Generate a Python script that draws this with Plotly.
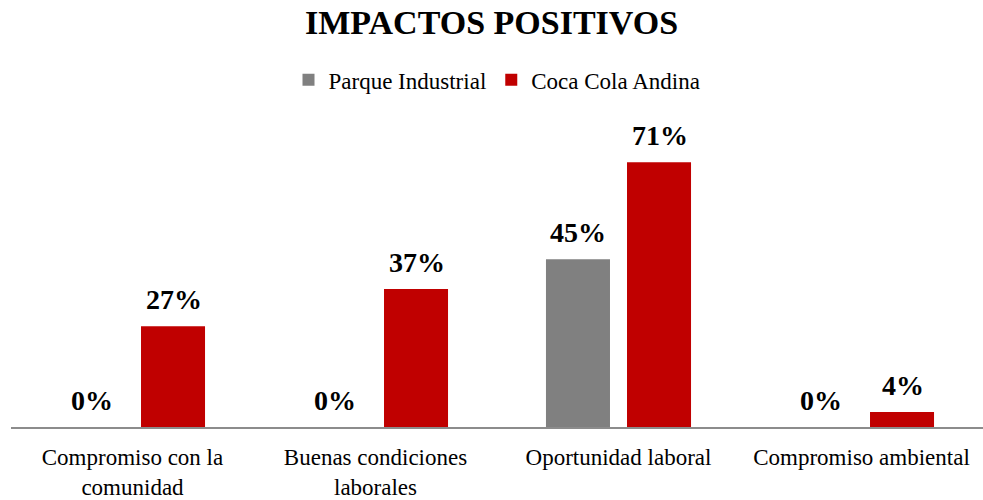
import plotly.graph_objects as go

categories = ["Compromiso con la<br>comunidad", "Buenas condiciones<br>laborales",
              "Oportunidad laboral", "Compromiso ambiental"]
parque_industrial = [0, 0, 45, 0]
coca_cola_andina = [27, 37, 71, 4]
series_names = ["Parque Industrial", "Coca Cola Andina"]
series_colors = ["#808080", "#C00000"]

FONT = "Liberation Serif, Times New Roman, serif"

fig = go.Figure()
for name, vals, col in zip(series_names, [parque_industrial, coca_cola_andina], series_colors):
    fig.add_trace(go.Bar(
        name=name, x=categories, y=vals,
        marker=dict(color=col, line=dict(width=0)),
        cliponaxis=False,
    ))

# value labels placed above each bar
annotations = []
for i, vals in enumerate([parque_industrial, coca_cola_andina]):
    shift = -41 if i == 0 else 41
    for cat, v in zip(categories, vals):
        annotations.append(dict(
            x=cat, y=v, xref="x", yref="y", text=f"<b>{v}%</b>", showarrow=False,
            xshift=shift, yshift=27, yanchor="middle",
            font=dict(family=FONT, size=28, color="black"),
        ))

fig.update_layout(
    width=983, height=500,
    margin=dict(l=11, r=0, t=110, b=73),
    paper_bgcolor="white", plot_bgcolor="white",
    barmode="group", bargap=0.333, bargroupgap=0.21,
    title=dict(text="<b>IMPACTOS POSITIVOS</b>", x=0.5, xanchor="center",
               y=0.956, yanchor="middle",
               font=dict(family=FONT, size=34, color="black")),
    legend=dict(orientation="h", x=0.5, xanchor="center", y=1.095, yanchor="middle",
                font=dict(family=FONT, size=23, color="black"),
                itemwidth=30, traceorder="normal"),
    font=dict(family=FONT, color="black"),
    annotations=annotations,
)
fig.update_xaxes(showline=True, linecolor="#8c8c8c", linewidth=2, ticks="",
                 tickfont=dict(family=FONT, size=23, color="black"),
                 ticklabelstandoff=8,
                 showgrid=False, automargin=False)
fig.update_yaxes(visible=False, range=[0, 85], showgrid=False, zeroline=False,
                 automargin=False)

fig.write_html("out.html", config={"displayModeBar": False},
               post_script="document.body.style.margin='0';")
